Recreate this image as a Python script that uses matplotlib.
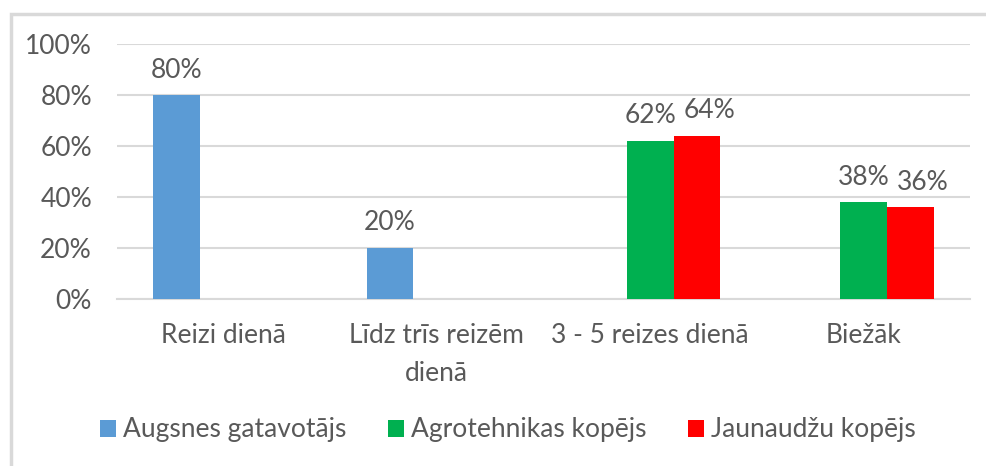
import matplotlib
matplotlib.use('Agg')
import matplotlib.pyplot as plt
from matplotlib.patches import Rectangle
import numpy as np

plt.rcParams['font.family'] = ['Lato', 'DejaVu Sans']

categories = ['Reizi dienā', 'Līdz trīs reizēm\ndienā', '3 - 5 reizes dienā', 'Biežāk']
series_names = ['Augsnes gatavotājs', 'Agrotehnikas kopējs', 'Jaunaudžu kopējs']
augsnes = [80, 20, None, None]
agrotehnikas = [None, None, 62, 38]
jaunaudzu = [None, None, 64, 36]
colors = ['#5B9BD5', '#00B050', '#FF0000']
yticks = [0, 20, 40, 60, 80, 100]

txt = '#595959'
grid = '#D9D9D9'
fs = 19

fig = plt.figure(figsize=(9.87, 4.66), dpi=100)
ax = fig.add_axes([117/987, 1 - 299/466, 853/987, 255/466])

x = np.arange(len(categories))
w = 0.22
offsets = [-w, 0, w]
# Excel nudges the right-hand labels so neighbouring labels don't collide
label_nudge = [0, 0, 9]
for vals, off, col, name, nud in zip([augsnes, agrotehnikas, jaunaudzu], offsets, colors,
                                     series_names, label_nudge):
    xs = [xi + off for xi, v in zip(x, vals) if v is not None]
    hs = [v for v in vals if v is not None]
    bars = ax.bar(xs, hs, width=w, color=col, label=name, zorder=3)
    for b, v in zip(bars, hs):
        ax.annotate(f'{v}%', (b.get_x() + b.get_width() / 2, v), xytext=(nud, 9),
                    textcoords='offset points', ha='center', va='bottom',
                    fontsize=fs, color=txt)

ax.set_xlim(-0.5, len(categories) - 0.5)
ax.set_ylim(0, 100)
ax.set_yticks(yticks)
ax.set_yticklabels([f'{t}%' for t in yticks])
ax.yaxis.grid(True, color=grid, lw=1.5, zorder=0)
ax.set_xticks(x)
ax.set_xticklabels(categories, linespacing=1.65)
ax.tick_params(axis='both', length=0, labelsize=fs, labelcolor=txt)
ax.tick_params(axis='y', pad=18)
ax.tick_params(axis='x', pad=17)
for s in ['top', 'right', 'left']:
    ax.spines[s].set_visible(False)
ax.spines['bottom'].set_color(grid)
ax.spines['bottom'].set_linewidth(1.5)

leg = fig.legend(loc='center', bbox_to_anchor=(508/987, 1 - 430/466), ncol=3, frameon=False,
                 fontsize=fs, handlelength=0.6, handleheight=0.6, handletextpad=0.25,
                 columnspacing=1.6)
for t in leg.get_texts():
    t.set_color(txt)

fig.add_artist(Rectangle((11/987, -0.2), 1.2, 1.2 - 14/466, transform=fig.transFigure,
                         fill=False, edgecolor=grid, lw=2.5))

fig.savefig('out.png', dpi=100)
